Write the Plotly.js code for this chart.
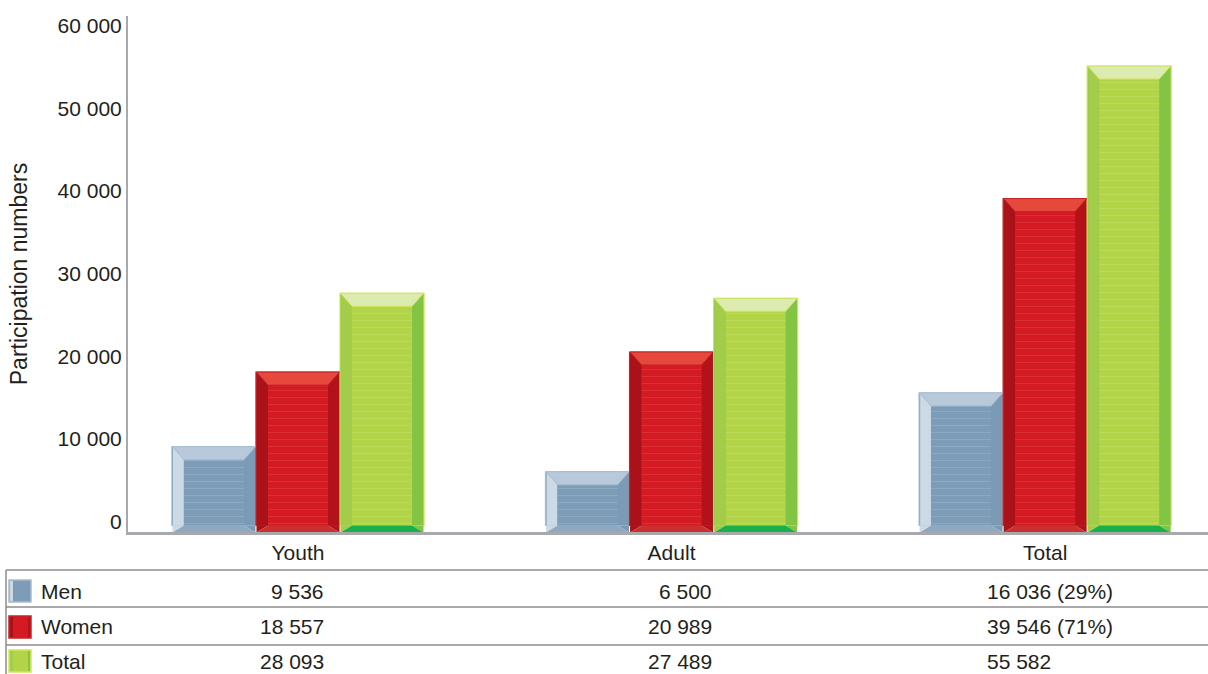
<!DOCTYPE html>
<html>
<head>
<meta charset="utf-8">
<script src="https://cdn.plot.ly/plotly-3.0.1.min.js"></script>
<style>
  html, body { margin: 0; padding: 0; background: #ffffff; }
  #chart { width: 1208px; height: 674px; }
</style>
</head>
<body>
<div id="chart"></div>
<script>
// ---- data ----
const categories = ['Youth', 'Adult', 'Total'];
const seriesNames = ['Men', 'Women', 'Total'];
const menValues = [9536, 6500, 16036];
const womenValues = [18557, 20989, 39546];
const totalValues = [28093, 27489, 55582];
const yTickVals = [0, 10000, 20000, 30000, 40000, 50000, 60000];
const yTitle = 'Participation numbers';

// ---- styling ----
const W = 1208, H = 674;
const M = {l: 128, r: 0, t: 16, b: 142};
const plotH = H - M.t - M.b;
const plotW = W - M.l - M.r;
const FONT = 'Liberation Sans, Arial, Helvetica, sans-serif';
const TXT = '#231f20';

const styles = [
  {right: '#7b9ab6', left: '#ccdae6', main: '#7d9cb8', border: '#a9bdd0',
   cap: '#b7c9da', bottom: '#8fa9c0', streak: '#9db5cb'},
  {right: '#b3121a', left: '#a81218', main: '#d41b23', border: '#c0262b',
   cap: '#e6493c', bottom: '#c9302e', streak: '#e04548'},
  {right: '#84c444', left: '#a3cc4a', main: '#b2d448', border: '#d4e55a',
   cap: '#dcebb0', bottom: '#19b04a', streak: '#c6de66'}
];
const seriesData = [menValues, womenValues, totalValues];

const fmt = n => String(n).replace(/\B(?=(\d{3})+(?!\d))/g, ' ');
const px2py = py => (H - M.b - py) / plotH;   // pixel y -> paper y
const px2px = px => (px - M.l) / plotW;        // pixel x -> paper x

const xRange = [-0.455, 2.436];
const unitPx = plotW / (xRange[1] - xRange[0]);
const barW = 0.225, sideW = 12 / unitPx;
const groupOffsets = [-0.3375, -0.1125, 0.1125];
const halfPx = barW * unitPx / 2, sidePx = 12, capPx = 13, footPx = 7;

const traces = [];
seriesData.forEach((vals, i) => {
  const s = styles[i], o = groupOffsets[i];
  const base = {type: 'bar', x: categories, y: vals, name: seriesNames[i],
                hoverinfo: 'skip', showlegend: false};
  // full bar (right bevel colour)
  traces.push(Object.assign({}, base, {offset: o, width: barW,
    marker: {color: s.right, line: {color: s.border, width: 1.2}}}));
  // left bevel
  traces.push(Object.assign({}, base, {offset: o + 0.003, width: sideW - 0.003,
    marker: {color: s.left, line: {width: 0}}}));
  // front face with faint streaks
  traces.push(Object.assign({}, base, {offset: o + sideW, width: barW - 2 * sideW,
    marker: {color: s.main, line: {width: 0},
      pattern: {shape: '-', bgcolor: s.main, fgcolor: s.streak, fgopacity: 0.5,
                size: 7, solidity: 0.15}}}));
});

// ---- bevel caps and feet anchored to each bar ----
const shapes = [];
const P = pts => 'M' + pts.map(p => p[0].toFixed(1) + ',' + p[1].toFixed(1)).join('L') + 'Z';
seriesData.forEach((vals, i) => {
  const s = styles[i];
  vals.forEach((v, c) => {
    const cx = c + groupOffsets[i] + barW / 2;
    const h = halfPx - 0.5, e = halfPx - sidePx;
    // top cap
    shapes.push({type: 'path', xref: 'x', yref: 'y', xsizemode: 'pixel', ysizemode: 'pixel',
      xanchor: cx, yanchor: v, layer: 'above',
      path: P([[-h, 0], [h, 0], [e, -capPx], [-e, -capPx]]),
      fillcolor: s.cap, line: {color: s.border, width: 1}});
    // foot below zero
    shapes.push({type: 'path', xref: 'x', yref: 'y', xsizemode: 'pixel', ysizemode: 'pixel',
      xanchor: cx, yanchor: 0, layer: 'above',
      path: P([[-h, 0], [-e, 0], [-h, -footPx]]),
      fillcolor: s.left, line: {width: 0}});
    shapes.push({type: 'path', xref: 'x', yref: 'y', xsizemode: 'pixel', ysizemode: 'pixel',
      xanchor: cx, yanchor: 0, layer: 'above',
      path: P([[h, 0], [e, 0], [h, -footPx]]),
      fillcolor: s.right, line: {width: 0}});
    shapes.push({type: 'path', xref: 'x', yref: 'y', xsizemode: 'pixel', ysizemode: 'pixel',
      xanchor: cx, yanchor: 0, layer: 'above',
      path: P([[-e, 0], [e, 0], [h, -footPx], [-h, -footPx]]),
      fillcolor: s.bottom, line: {width: 0}});
  });
});

// ---- table below the chart ----
const annotations = [];
const lineColor = '#8c8c8c';
const rowLines = [570, 607, 645];
rowLines.forEach(py => shapes.push({type: 'line', xref: 'paper', yref: 'paper',
  x0: px2px(6), x1: px2px(1208), y0: px2py(py), y1: px2py(py),
  line: {color: lineColor, width: 1.5}}));
shapes.push({type: 'line', xref: 'paper', yref: 'paper',
  x0: px2px(6), x1: px2px(6), y0: px2py(570), y1: px2py(674),
  line: {color: lineColor, width: 1.5}});

const rowCenters = [591, 627, 661];
const colRight = [326, 714];
const colLeftTotal = 985;
seriesNames.forEach((name, i) => {
  const cy = rowCenters[i];
  const s = styles[i];
  // legend icon
  shapes.push({type: 'rect', xref: 'paper', yref: 'paper',
    x0: px2px(9), x1: px2px(31), y0: px2py(cy + 11), y1: px2py(cy - 11),
    fillcolor: s.main, line: {color: s.border, width: 1.5}});
  shapes.push({type: 'rect', xref: 'paper', yref: 'paper',
    x0: px2px(10), x1: px2px(13), y0: px2py(cy + 10), y1: px2py(cy - 10),
    fillcolor: s.left, line: {width: 0}});
  shapes.push({type: 'rect', xref: 'paper', yref: 'paper',
    x0: px2px(28), x1: px2px(30), y0: px2py(cy + 10), y1: px2py(cy - 10),
    fillcolor: s.right, line: {width: 0}});
  annotations.push({xref: 'paper', yref: 'paper', x: px2px(39), y: px2py(cy),
    xanchor: 'left', yanchor: 'middle', showarrow: false, text: name,
    font: {family: FONT, size: 21, color: TXT}});
  const vals = seriesData[i];
  [0, 1].forEach(c => annotations.push({xref: 'paper', yref: 'paper',
    x: px2px(colRight[c]), y: px2py(cy), xanchor: 'right', yanchor: 'middle',
    showarrow: false, text: fmt(vals[c]), font: {family: FONT, size: 21, color: TXT}}));
  let t = fmt(vals[2]);
  if (i < 2) t += ' (' + Math.round(vals[2] / totalValues[2] * 100) + '%)';
  annotations.push({xref: 'paper', yref: 'paper', x: px2px(colLeftTotal), y: px2py(cy),
    xanchor: 'left', yanchor: 'middle', showarrow: false, text: t,
    font: {family: FONT, size: 21, color: TXT}});
});

const layout = {
  width: W, height: H,
  margin: M,
  paper_bgcolor: '#ffffff', plot_bgcolor: '#ffffff',
  barmode: 'overlay',
  hovermode: false,
  showlegend: false,
  separators: '. ',
  font: {family: FONT, size: 21, color: TXT},
  xaxis: {
    type: 'category', range: xRange, fixedrange: true,
    showline: true, linecolor: '#a7a9ac', linewidth: 3,
    ticks: '', showgrid: false, zeroline: false,
    tickfont: {family: FONT, size: 21, color: TXT}
  },
  yaxis: {
    range: [-786, 61630], fixedrange: true,
    tickvals: yTickVals, tickformat: ',d', ticklabelshift: -4,
    showline: true, linecolor: '#a7a9ac', linewidth: 2,
    ticks: '', showgrid: false, zeroline: false,
    tickfont: {family: FONT, size: 21, color: TXT},
    title: {text: yTitle, standoff: 24, font: {family: FONT, size: 23, color: TXT}}
  },
  shapes: shapes,
  annotations: annotations
};

Plotly.newPlot('chart', traces, layout, {displayModeBar: false, staticPlot: true});
</script>
</body>
</html>
